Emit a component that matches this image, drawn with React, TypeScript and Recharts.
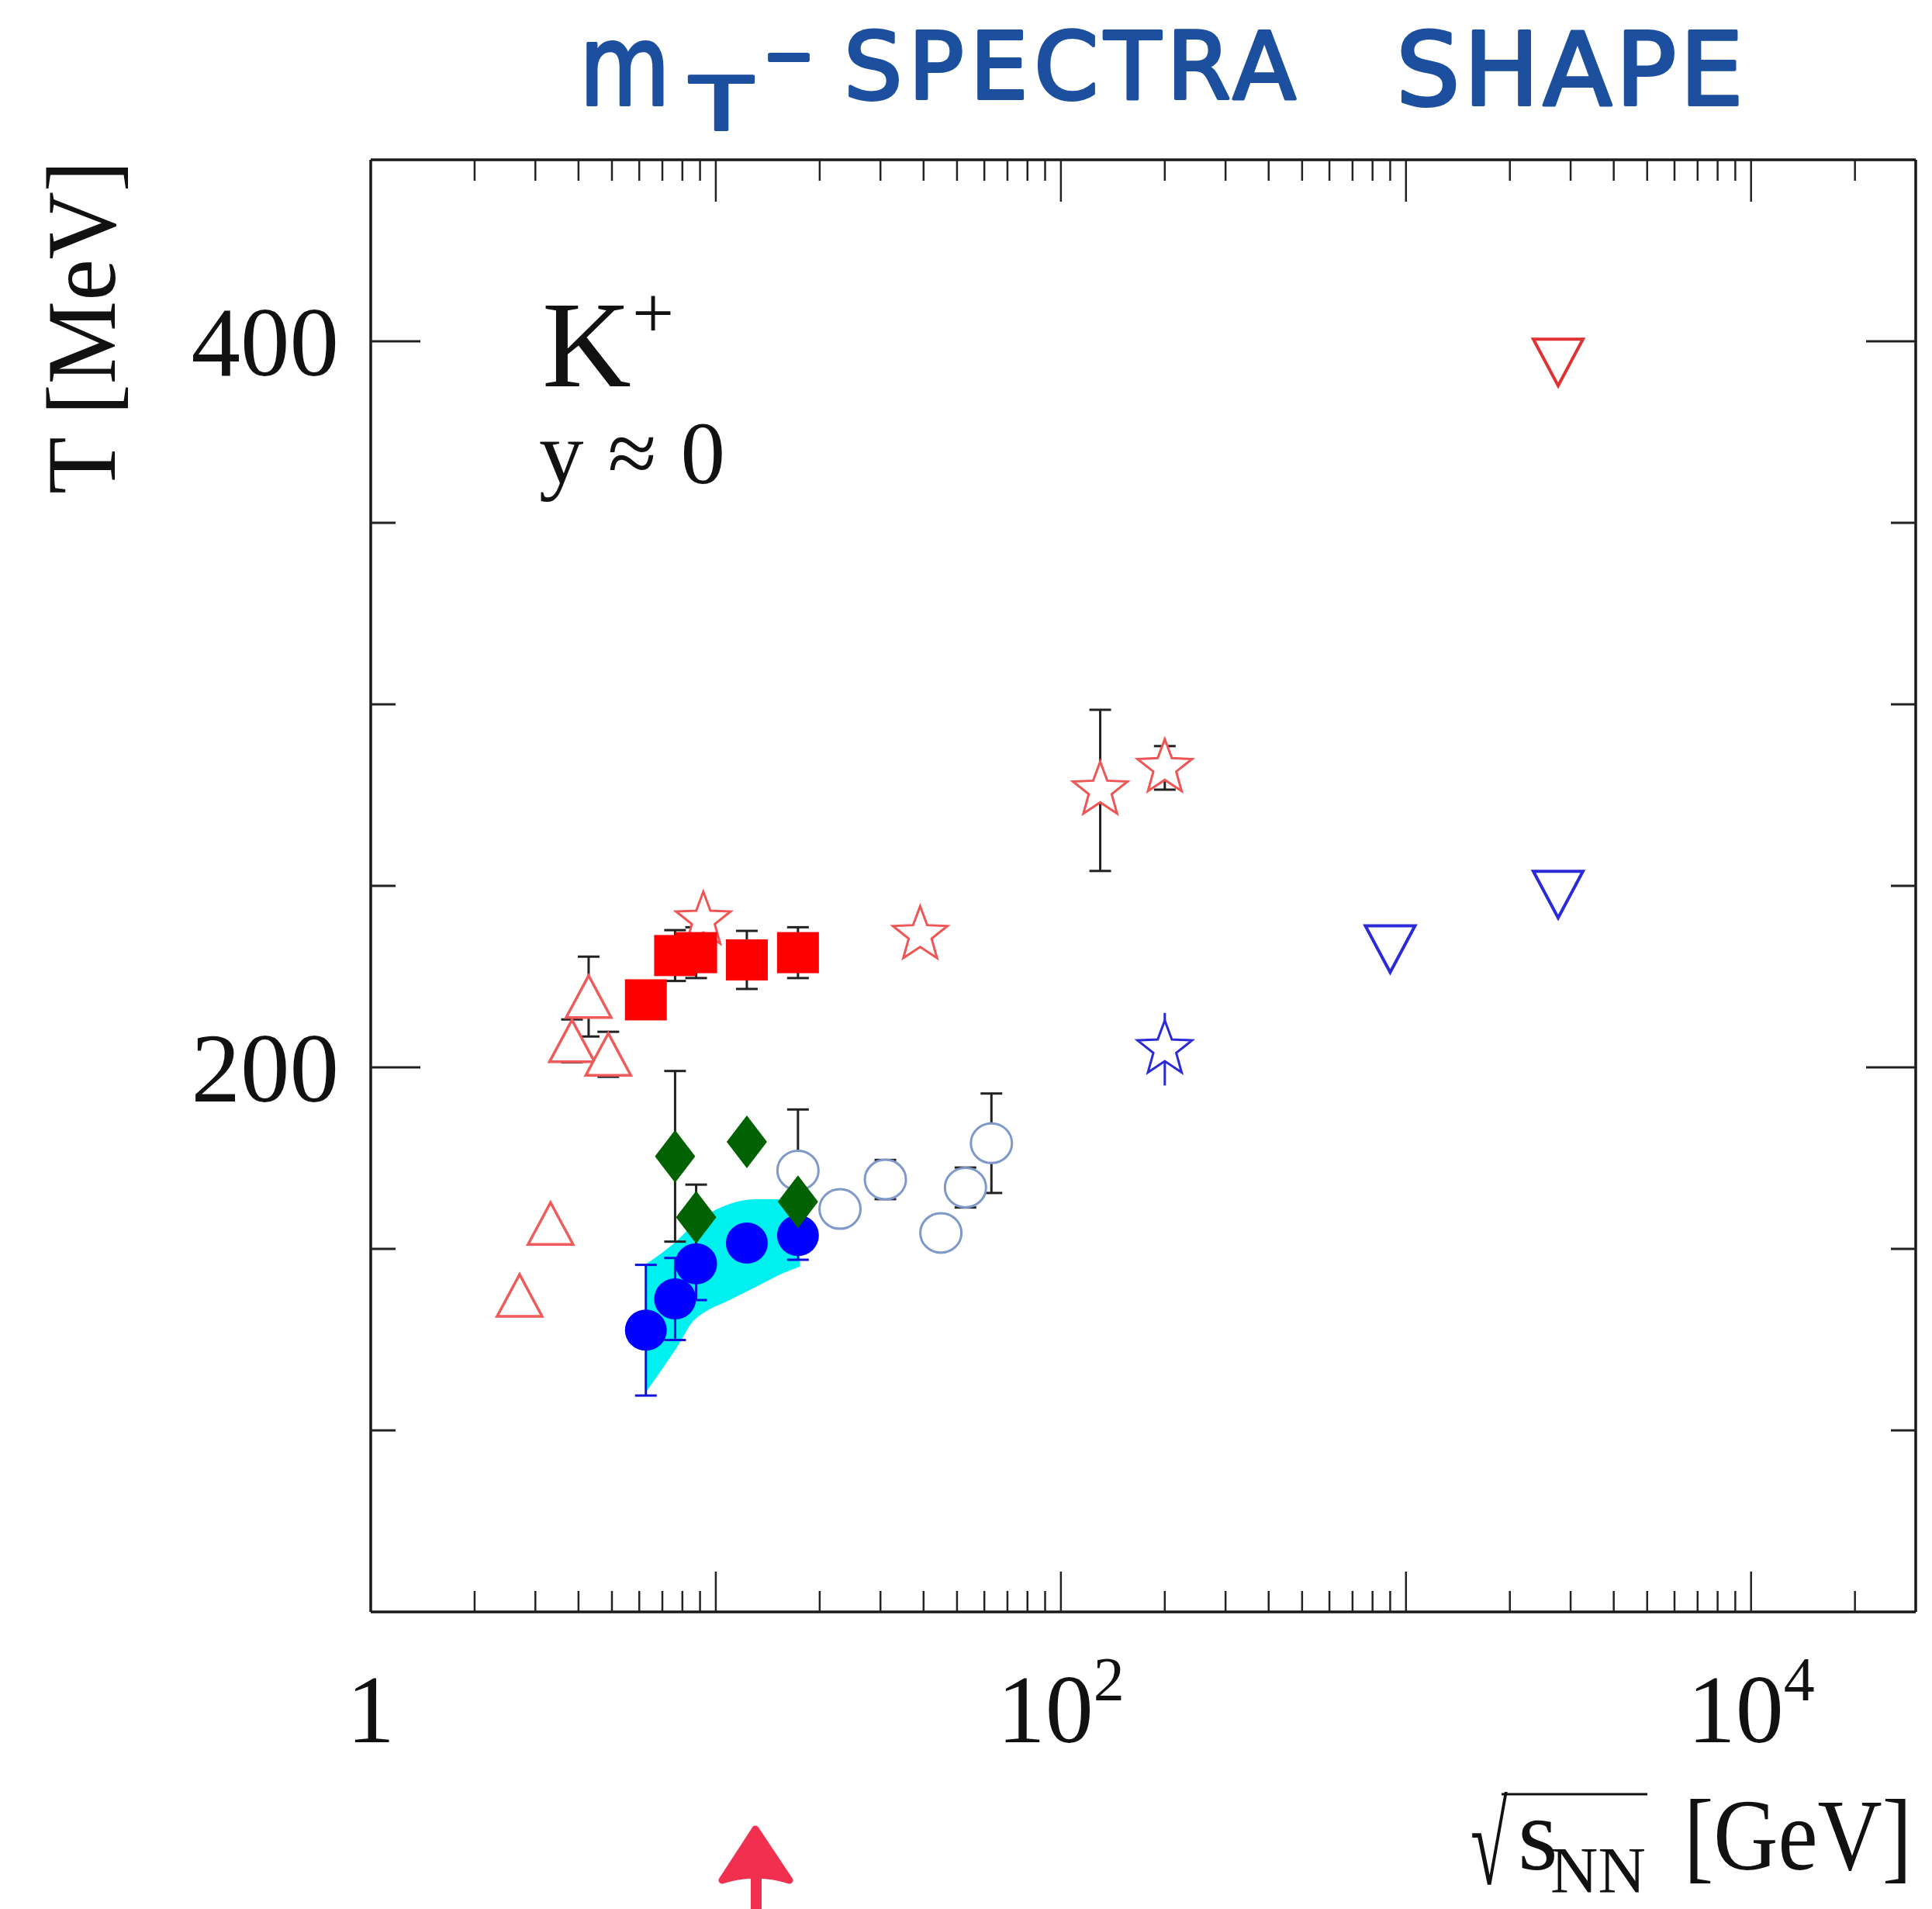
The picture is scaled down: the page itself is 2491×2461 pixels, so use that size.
import React from "react";
import { Area, ComposedChart, ErrorBar, Scatter, XAxis, YAxis } from "recharts";

const W = 2491;
const H = 2461;
const SERIF = "'Liberation Serif', 'Times New Roman', serif";

// open red triangles (low energies)
const triUpX = [2.7, 3.32, 3.83, 4.28, 4.88];
const triUpT = [137.2, 157.0, 207.3, 219.5, 203.6];
const triUpErr = [0, 0, 5.9, 11.0, 6.2];

// filled red squares
const squareX = [6.27, 7.62, 8.77, 12.3, 17.3];
const squareT = [218.6, 230.8, 231.6, 229.6, 231.6];
const squareErr = [0, 7.0, 7.0, 8.0, 7.0];

// filled green diamonds
const diamondX = [7.62, 8.77, 12.3, 17.3];
const diamondT = [175.5, 158.7, 179.5, 163.0];
const diamondErr = [23.5, 9.0, 0, 0];

// filled blue circles
const dotX = [6.27, 7.62, 8.77, 12.3, 17.3];
const dotT = [127.6, 136.2, 145.9, 151.6, 153.7];
const dotErr = [18.0, 11.3, 10.0, 0, 6.7];

// open light-blue circles
const ringX = [17.3, 22.9, 31.0, 44.9, 52.9, 62.9];
const ringT = [171.6, 161.0, 169.1, 154.4, 166.9, 179.1];
const ringErr = [16.8, 0, 5.4, 0, 5.5, 13.7];

// open red stars
const redStarX = [9.2, 39.1, 130, 200];
const redStarT = [240.5, 236.5, 276.3, 282.5];
const redStarErr = [0, 0, 22.2, 6.0];

// open blue star
const blueStarX = [200];
const blueStarT = [205.0];
const blueStarErr = [10.0];

// open down triangles
const redDownX = [2760];
const redDownT = [394.2];
const blueDownX = [900, 2760];
const blueDownT = [232.6, 247.6];

// cyan band
const bandX = [6.27, 7.0, 7.73, 8.58, 9.19, 10.9, 13.0, 15.4, 17.5];
const bandLow = [110.5, 117.0, 123.0, 130.0, 132.3, 135.8, 139.4, 143.0, 145.1];
const bandHigh = [145.8, 149.0, 152.3, 156.5, 158.7, 162.3, 163.7, 163.7, 162.3];

// axes
const xTicks = [
  1, 2, 3, 4, 5, 6, 7, 8, 9, 10, 20, 30, 40, 50, 60, 70, 80, 90, 100, 200, 300, 400, 500, 600,
  700, 800, 900, 1000, 2000, 3000, 4000, 5000, 6000, 7000, 8000, 9000, 10000, 20000,
];
const xMajor = [10, 100, 1000, 10000];
const xLabelBase: Record<number, string> = { 1: "1", 100: "10", 10000: "10" };
const xLabelExp: Record<number, string> = { 100: "2", 10000: "4" };
const yTicks = [100, 150, 200, 250, 300, 350, 400];
const yLabeled = [200, 400];

const rows = (xs: number[], ts: number[], es?: number[]) =>
  xs.map((x, i) => ({ x, t: ts[i], err: es ? es[i] : 0 }));

const bandData = bandX.map((x, i) => ({ x, band: [bandLow[i], bandHigh[i]] }));

function starPoints(cx: number, cy: number, R: number, r: number) {
  const pts: string[] = [];
  for (let k = 0; k < 10; k++) {
    const a = ((-90 + 36 * k) * Math.PI) / 180;
    const rad = k % 2 === 0 ? R : r;
    pts.push(`${cx + rad * Math.cos(a)},${cy + rad * Math.sin(a)}`);
  }
  return pts.join(" ");
}

const Square = ({ cx, cy }: any) => <rect x={cx - 27} y={cy - 26.5} width={54} height={53} fill="#ff0000" />;
const Dot = ({ cx, cy }: any) => <ellipse cx={cx} cy={cy} rx={27} ry={26.5} fill="#0000ff" />;
const Ring = ({ cx, cy }: any) => (
  <ellipse cx={cx} cy={cy} rx={26.5} ry={25.5} fill="#ffffff" stroke="#7d98c9" strokeWidth={3} />
);
const Diamond = ({ cx, cy }: any) => (
  <polygon points={`${cx},${cy - 34} ${cx + 26},${cy} ${cx},${cy + 34} ${cx - 26},${cy}`} fill="#006200" />
);
const TriUp = ({ cx, cy }: any) => (
  <polygon
    points={`${cx},${cy - 27} ${cx + 29},${cy + 27} ${cx - 29},${cy + 27}`}
    fill="#ffffff"
    stroke="#ef5a5a"
    strokeWidth={3.5}
  />
);
const triDown = (color: string) => ({ cx, cy }: any) => (
  <polygon
    points={`${cx - 32},${cy - 30} ${cx + 32},${cy - 30} ${cx},${cy + 30}`}
    fill="#ffffff"
    stroke={color}
    strokeWidth={4}
  />
);
const star = (color: string) => ({ cx, cy }: any) => (
  <polygon points={starPoints(cx, cy, 37, 15.5)} fill="#ffffff" stroke={color} strokeWidth={3} />
);

function BottomTick({ x, y, payload }: any) {
  const v = payload.value;
  const len = xMajor.includes(v) ? 52 : 27;
  const base = xLabelBase[v];
  const exp = xLabelExp[v];
  return (
    <g>
      {v !== 1 && <line x1={x} y1={y} x2={x} y2={y - len} stroke="#222" strokeWidth={2.5} />}
      {base && (
        <text x={x} y={y + 168} textAnchor="middle" fontFamily={SERIF} fontSize={124} fill="#111">
          {base}
          {exp && (
            <tspan dy={-54} fontSize={80}>
              {exp}
            </tspan>
          )}
        </text>
      )}
    </g>
  );
}

function TopTick({ x, y, payload }: any) {
  const v = payload.value;
  if (v === 1) return <g />;
  const len = xMajor.includes(v) ? 54 : 27;
  return <line x1={x} y1={y} x2={x} y2={y + len} stroke="#222" strokeWidth={2.5} />;
}

function LeftTick({ x, y, payload }: any) {
  const v = payload.value;
  const lab = yLabeled.includes(v);
  return (
    <g>
      <line x1={x} y1={y} x2={x + (lab ? 64 : 32)} y2={y} stroke="#222" strokeWidth={3} />
      {lab && (
        <text x={x - 41} y={y + 44} textAnchor="end" fontFamily={SERIF} fontSize={127} fill="#111">
          {v}
        </text>
      )}
    </g>
  );
}

function RightTick({ x, y, payload }: any) {
  const lab = yLabeled.includes(payload.value);
  return <line x1={x - (lab ? 64 : 32)} y1={y} x2={x} y2={y} stroke="#222" strokeWidth={3} />;
}

export default function App() {
  const axisLine = { stroke: "#1a1a1a", strokeWidth: 3.5 };
  const eb = (color: string, width: number) => (
    <ErrorBar dataKey="err" direction="y" width={width} stroke={color} strokeWidth={3} isAnimationActive={false} />
  );
  return (
    <div style={{ position: "absolute", left: 0, top: 0, width: W, height: H, background: "#fff" }}>
      <ComposedChart width={W} height={H} data={bandData} margin={{ top: 0, right: 0, bottom: 0, left: 0 }}>
        <XAxis
          xAxisId="b"
          dataKey="x"
          type="number"
          scale="log"
          domain={[1, 30000]}
          allowDataOverflow
          orientation="bottom"
          height={383}
          ticks={xTicks}
          interval={0}
          tickSize={0}
          tickMargin={0}
          tickLine={false}
          axisLine={axisLine}
          tick={(p: any) => <BottomTick {...p} />}
        />
        <XAxis
          xAxisId="t"
          dataKey="x"
          type="number"
          scale="log"
          domain={[1, 30000]}
          allowDataOverflow
          orientation="top"
          height={206}
          ticks={xTicks}
          interval={0}
          tickSize={0}
          tickMargin={0}
          tickLine={false}
          axisLine={axisLine}
          tick={(p: any) => <TopTick {...p} />}
        />
        <YAxis
          yAxisId="l"
          dataKey="t"
          type="number"
          domain={[50, 450]}
          allowDataOverflow
          orientation="left"
          width={478}
          ticks={yTicks}
          interval={0}
          tickSize={0}
          tickMargin={0}
          tickLine={false}
          axisLine={axisLine}
          tick={(p: any) => <LeftTick {...p} />}
        />
        <YAxis
          yAxisId="r"
          dataKey="t"
          type="number"
          domain={[50, 450]}
          allowDataOverflow
          orientation="right"
          width={21}
          ticks={yTicks}
          interval={0}
          tickSize={0}
          tickMargin={0}
          tickLine={false}
          axisLine={axisLine}
          tick={(p: any) => <RightTick {...p} />}
        />

        <Area
          xAxisId="b"
          yAxisId="l"
          dataKey="band"
          type="monotone"
          stroke="none"
          fill="#00f0f0"
          fillOpacity={1}
          isAnimationActive={false}
        />

        <Scatter xAxisId="b" yAxisId="l" data={rows(redStarX, redStarT, redStarErr)} shape={star("#ee5555")} isAnimationActive={false}>
          {eb("#222", 14)}
        </Scatter>
        <Scatter xAxisId="b" yAxisId="l" data={rows(ringX, ringT, ringErr)} shape={Ring} isAnimationActive={false}>
          {eb("#222", 14)}
        </Scatter>
        <Scatter xAxisId="b" yAxisId="l" data={rows(dotX, dotT, dotErr)} shape={Dot} isAnimationActive={false}>
          {eb("#1010e0", 14)}
        </Scatter>
        <Scatter xAxisId="b" yAxisId="l" data={rows(squareX, squareT, squareErr)} shape={Square} isAnimationActive={false}>
          {eb("#222", 14)}
        </Scatter>
        <Scatter xAxisId="b" yAxisId="l" data={rows(diamondX, diamondT, diamondErr)} shape={Diamond} isAnimationActive={false}>
          {eb("#222", 14)}
        </Scatter>
        <Scatter xAxisId="b" yAxisId="l" data={rows(triUpX, triUpT, triUpErr)} shape={TriUp} isAnimationActive={false}>
          {eb("#222", 14)}
        </Scatter>
        <Scatter xAxisId="b" yAxisId="l" data={rows(redDownX, redDownT)} shape={triDown("#e03232")} isAnimationActive={false} />
        <Scatter xAxisId="b" yAxisId="l" data={rows(blueDownX, blueDownT)} shape={triDown("#2a2ad6")} isAnimationActive={false} />
        <Scatter xAxisId="b" yAxisId="l" data={rows(blueStarX, blueStarT, blueStarErr)} shape={star("#2a2ad6")} isAnimationActive={false}>
          {eb("#2a2ad6", 0)}
        </Scatter>
      </ComposedChart>

      <svg width={W} height={H} style={{ position: "absolute", left: 0, top: 0, pointerEvents: "none" }}>
        {/* handwritten title */}
        <g
          fill="#1d4f9f"
          stroke="#1d4f9f"
          strokeWidth={4}
          strokeLinejoin="round"
          fontFamily="'DejaVu Sans', sans-serif"
        >
          <text x={747} y={135} fontSize={144} textLength={117} lengthAdjust="spacingAndGlyphs">
            m
          </text>
          <text x={890} y={167} fontSize={95} textLength={80} lengthAdjust="spacingAndGlyphs">
            T
          </text>
          <text x={985} y={101} fontSize={100} textLength={64} lengthAdjust="spacingAndGlyphs">
            -
          </text>
          <text x={1088} y={127} fontSize={119} textLength={583} lengthAdjust="spacing">
            SPECTRA
          </text>
          <text x={1800} y={135} fontSize={130} textLength={448} lengthAdjust="spacing">
            SHAPE
          </text>
        </g>

        {/* axis titles */}
        <text
          x={148}
          y={422}
          transform="rotate(-90 148 422)"
          textAnchor="middle"
          fontFamily={SERIF}
          fontSize={126}
          textLength={430}
          lengthAdjust="spacingAndGlyphs"
          fill="#111"
        >
          T [MeV]
        </text>
        <g fontFamily={SERIF} fill="#111">
          <text transform="translate(1896 2429) scale(0.58 1)" x={0} y={0} fontSize={150}>
            √
          </text>
          <line x1={1936} y1={2313} x2={2124} y2={2313} stroke="#111" strokeWidth={3} />
          <text x={1957} y={2410} fontSize={133}>
            s
          </text>
          <text x={1999} y={2440} fontSize={85}>
            NN
          </text>
          <text
            transform="translate(2171 2410) scale(1 1.1)"
            x={0}
            y={0}
            fontSize={120}
            textLength={294}
            lengthAdjust="spacingAndGlyphs"
          >
            [GeV]
          </text>
        </g>

        {/* particle label */}
        <g fontFamily={SERIF} fill="#111">
          <text x={699} y={498} fontSize={159}>
            K
          </text>
          <text x={815} y={435} fontSize={96}>
            +
          </text>
          <text x={695} y={623} fontSize={115} textLength={240} lengthAdjust="spacing">
            y ≈ 0
          </text>
        </g>

        {/* red arrow mark */}
        <g fill="#f0304e" stroke="#f0304e" strokeLinejoin="round">
          <path d="M974 2358 L931 2424 Q974 2410 1018 2424 Z" strokeWidth={9} />
          <line x1={975} y1={2415} x2={975} y2={2461} strokeWidth={14} />
        </g>
      </svg>
    </div>
  );
}
